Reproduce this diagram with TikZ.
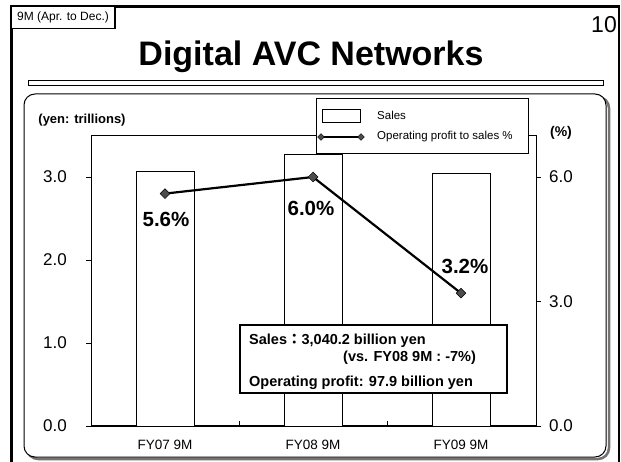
\documentclass[tikz,border=0pt]{standalone}
\usepackage{fontspec}
\setmainfont{Liberation Sans}
\newfontfamily\cjk{Noto Sans CJK JP}
\usetikzlibrary{shapes.geometric}
\newcommand{\fs}[1]{\fontsize{#1}{#1}\selectfont}
\begin{document}
\begin{tikzpicture}[x=1pt,y=-1pt,
  salesbar/.style={draw=black, line width=0.8pt, fill=white},
  mk/.style={diamond, draw=black, fill=black!70, line width=0.5pt, inner sep=0pt, minimum width=10pt, minimum height=10pt},
  smallmk/.style={diamond, draw=black, fill=black!70, line width=0.4pt, inner sep=0pt, minimum width=7pt, minimum height=7pt},
  axlabel/.style={font=\fs{17}},
  catlabel/.style={font=\fs{13.5}},
  pctlabel/.style={font=\fs{20.5}\bfseries},
  infotext/.style={font=\fs{14.5}\bfseries, anchor=base west, inner sep=0pt}]
\useasboundingbox (0,0) rectangle (621,462);
\fill[white] (0,0) rectangle (621,462);
% outer frame
\draw[line width=3pt] (11,470) -- (11,6.5) -- (619,6.5);
\draw[line width=2pt] (619,5.5) -- (619,470);
% tag box
\node[draw=black, line width=1.2pt, fill=white, minimum width=104pt, minimum height=22pt, inner sep=0pt, font=\fs{12}] (tag) at (63,17.5) {9M (Apr. to Dec.)};
\node[font=\fs{23}] (pagenum) at (604,25) {10};
% title
\node[font=\fs{34}\bfseries, anchor=base] (title) at (311,66) {Digital AVC Networks};
\draw[line width=0.9pt] (28,80) rectangle (603,85);
% panel with shadow
\draw[line width=2.5pt, black!55, rounded corners=11pt] (27,97) rectangle (609,459);
\draw[line width=1pt, fill=white, rounded corners=11pt] (24,94) rectangle (606,457);
% plot area
\draw[line width=0.9pt] (91,135) rectangle (536,426);
\draw[line width=1.6pt] (91,426) -- (536,426);
\foreach \v in {0,1,2,3} \draw[line width=0.9pt] (86,{426-83*\v}) -- (91,{426-83*\v});
\foreach \v in {0,3,6} \draw[line width=0.9pt] (536,{426-41.5*\v}) -- (541,{426-41.5*\v});
\foreach \x in {239.3,387.7} \draw[line width=0.9pt] (\x,426) -- (\x,421);
% y labels
\node[axlabel] (y0) at (55,426) {0.0};
\node[axlabel] (y1) at (55,343) {1.0};
\node[axlabel] (y2) at (55,260) {2.0};
\node[axlabel] (y3) at (55,177) {3.0};
\node[axlabel] (r0) at (561,426) {0.0};
\node[axlabel] (r3) at (561,301.5) {3.0};
\node[axlabel] (r6) at (561,177) {6.0};
\node[font=\fs{13}\bfseries] (unitl) at (82,120) {(yen: trillions)};
\node[font=\fs{14}\bfseries] (unitr) at (561,133) {(\%)};
% bars
\draw[salesbar] (136,426) rectangle (194,171);
\draw[salesbar] (284,426) rectangle (342,154);
\draw[salesbar] (432,426) rectangle (490,173.5);
% category labels
\node[catlabel] (c1) at (165,445) {FY07 9M};
\node[catlabel] (c2) at (313,445) {FY08 9M};
\node[catlabel] (c3) at (461,445) {FY09 9M};
% profit line
\coordinate (q1) at (165,193.6);
\coordinate (q2) at (313,177);
\coordinate (q3) at (461,293.2);
\draw[line width=2.2pt] (q1) -- (q2) -- (q3);
\node[mk] (p1) at (q1) {};
\node[mk] (p2) at (q2) {};
\node[mk] (p3) at (q3) {};
\node[pctlabel] (l1) at (166,219) {5.6\%};
\node[pctlabel] (l2) at (311,208) {6.0\%};
\node[pctlabel] (l3) at (465,266) {3.2\%};
% legend
\draw[line width=0.9pt, fill=white] (316,98) rectangle (528,153);
\draw[line width=0.8pt] (322,109) rectangle (360,122);
\node[font=\fs{11.5}, anchor=west, inner sep=0pt] (lgs) at (377,115.5) {Sales};
\coordinate (lg1) at (321,137);
\coordinate (lg2) at (361,137);
\draw[line width=1.3pt] (lg1) -- (lg2);
\node[smallmk] (lm1) at (lg1) {};
\node[smallmk] (lm2) at (lg2) {};
\node[font=\fs{11.5}, anchor=west, inner sep=0pt] (lgp) at (377,137) {Operating profit to sales \%};
% info box
\draw[line width=1.3pt, fill=white] (240,325) rectangle (507,393);
\node[infotext] (i1) at (249,344) {Sales{\cjk ：}3,040.2 billion yen};
\node[infotext] (i2) at (343,361) {(vs. FY08 9M : -7\%)};
\node[infotext] (i3) at (249,386) {Operating profit: 97.9 billion yen};
\end{tikzpicture}
\end{document}
